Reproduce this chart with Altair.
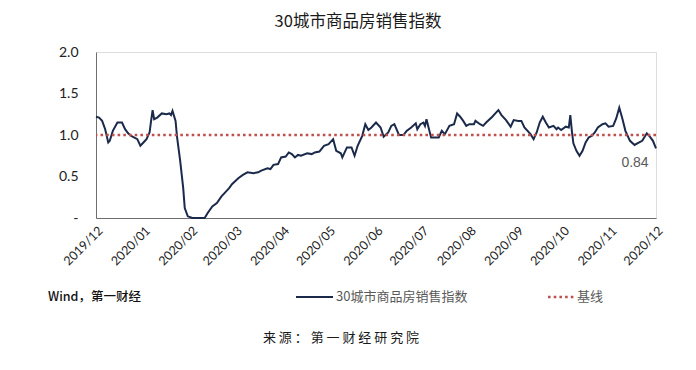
import altair as alt
import pandas as pd

# ---------------- data ----------------
dates = [
    "2019-12-01", "2019-12-03", "2019-12-05", "2019-12-07", "2019-12-09", "2019-12-10",
    "2019-12-12", "2019-12-15", "2019-12-18", "2019-12-20", "2019-12-22", "2019-12-24",
    "2019-12-28", "2019-12-30", "2020-01-01", "2020-01-03", "2020-01-05", "2020-01-06",
    "2020-01-07", "2020-01-08", "2020-01-10", "2020-01-13", "2020-01-16", "2020-01-18",
    "2020-01-19", "2020-01-20", "2020-01-22", "2020-01-23", "2020-01-25", "2020-01-27",
    "2020-01-28", "2020-01-30", "2020-02-02", "2020-02-09", "2020-02-10", "2020-02-12",
    "2020-02-15", "2020-02-18", "2020-02-21", "2020-02-23", "2020-02-26", "2020-02-28",
    "2020-03-03", "2020-03-06", "2020-03-09", "2020-03-13", "2020-03-16", "2020-03-18",
    "2020-03-22", "2020-03-24", "2020-03-26", "2020-03-29", "2020-03-31", "2020-04-03",
    "2020-04-05", "2020-04-07", "2020-04-09", "2020-04-11", "2020-04-13", "2020-04-17",
    "2020-04-20", "2020-04-22", "2020-04-25", "2020-04-28", "2020-05-01", "2020-05-04",
    "2020-05-06", "2020-05-09", "2020-05-10", "2020-05-13", "2020-05-16", "2020-05-18",
    "2020-05-20", "2020-05-23", "2020-05-25", "2020-05-27", "2020-05-29", "2020-06-01",
    "2020-06-04", "2020-06-06", "2020-06-09", "2020-06-11", "2020-06-13", "2020-06-16",
    "2020-06-19", "2020-06-21", "2020-06-24", "2020-06-27", "2020-06-28", "2020-06-30",
    "2020-07-02", "2020-07-03", "2020-07-04", "2020-07-07", "2020-07-12", "2020-07-14",
    "2020-07-16", "2020-07-19", "2020-07-22", "2020-07-24", "2020-07-26", "2020-07-28",
    "2020-07-30", "2020-08-01", "2020-08-04", "2020-08-05", "2020-08-08", "2020-08-10",
    "2020-08-12", "2020-08-16", "2020-08-18", "2020-08-20", "2020-08-22", "2020-08-25",
    "2020-08-28", "2020-08-30", "2020-09-02", "2020-09-04", "2020-09-06", "2020-09-10",
    "2020-09-12", "2020-09-14", "2020-09-16", "2020-09-18", "2020-09-20", "2020-09-22",
    "2020-09-25", "2020-09-27", "2020-09-28", "2020-09-30", "2020-10-03", "2020-10-05",
    "2020-10-06", "2020-10-07", "2020-10-08", "2020-10-10", "2020-10-12", "2020-10-14",
    "2020-10-16", "2020-10-18", "2020-10-20", "2020-10-22", "2020-10-24", "2020-10-27",
    "2020-10-29", "2020-10-31", "2020-11-03", "2020-11-05", "2020-11-07", "2020-11-09",
    "2020-11-11", "2020-11-14", "2020-11-17", "2020-11-20", "2020-11-22", "2020-11-25",
    "2020-11-27", "2020-11-29", "2020-12-01",
]
values = [
    1.22, 1.21, 1.17, 1.07, 0.91, 0.93,
    1.05, 1.15, 1.15, 1.07, 1.02, 0.99,
    0.95, 0.87, 0.91, 0.95, 1.03, 1.17,
    1.30, 1.19, 1.21, 1.26, 1.25, 1.26,
    1.24, 1.29, 1.17, 0.97, 0.69, 0.36,
    0.12, 0.02, 0.00, 0.00, 0.00, 0.06,
    0.14, 0.18, 0.26, 0.30, 0.36, 0.41,
    0.48, 0.52, 0.55, 0.54, 0.55, 0.57,
    0.60, 0.59, 0.64, 0.65, 0.73, 0.74,
    0.79, 0.77, 0.73, 0.76, 0.75, 0.78,
    0.77, 0.79, 0.80, 0.87, 0.89, 0.95,
    0.81, 0.78, 0.73, 0.85, 0.85, 0.75,
    0.87, 0.99, 1.13, 1.06, 1.09, 1.15,
    1.09, 0.98, 1.03, 1.11, 1.13, 1.00,
    1.00, 1.05, 1.09, 1.14, 1.07, 1.13,
    1.15, 1.11, 1.19, 0.97, 0.97, 1.05,
    1.01, 1.11, 1.13, 1.26, 1.22, 1.17,
    1.11, 1.13, 1.13, 1.17, 1.13, 1.11,
    1.15, 1.22, 1.26, 1.30, 1.24, 1.18,
    1.10, 1.18, 1.17, 1.17, 1.09, 1.01,
    0.95, 1.03, 1.15, 1.22, 1.15, 1.09,
    1.11, 1.07, 1.09, 1.06, 1.10, 1.09,
    1.24, 1.05, 0.90, 0.81, 0.75, 0.81,
    0.91, 0.97, 0.99, 1.03, 1.09, 1.13,
    1.14, 1.10, 1.11, 1.20, 1.33, 1.20,
    1.05, 0.93, 0.88, 0.91, 0.93, 1.02,
    0.98, 0.93, 0.84,
]
baseline_value = [1.0]
y_ticks = [0, 0.5, 1.0, 1.5, 2.0]
x_tick_months = [(2019, 12)] + [(2020, m) for m in range(1, 13)]

title_text = "30城市商品房销售指数"
series_name = "30城市商品房销售指数"
base_name = "基线"
note_left = "Wind，第一财经"
source_text = "来 源 ： 第 一 财 经 研 究 院"

# ---------------- styles ----------------
LINE_COLOR = "#1b2a4a"
BASE_COLOR = "#c0504d"
CJK = "Noto Sans CJK SC"

df = pd.DataFrame({"date": dates, "value": values})
base_df = pd.DataFrame({"base": baseline_value})
last_df = df.tail(1)

x_values = [alt.DateTime(year=y, month=m, date=1) for y, m in x_tick_months]

x_enc = alt.X(
    "date:T",
    scale=alt.Scale(domain=[x_values[0], x_values[-1]]),
    axis=alt.Axis(
        values=x_values, format="%Y/%m", labelAngle=-45, title=None,
        ticks=False, grid=False, labelPadding=6, labelFontSize=12.5,
        labelFont="Lato", labelColor="#222222", domainColor="#6e6e6e",
        labelAlign="right", labelBaseline="top",
    ),
)
y_enc = alt.Y(
    "value:Q",
    scale=alt.Scale(domain=[0, 2]),
    axis=alt.Axis(
        values=y_ticks, title=None, ticks=False, grid=False,
        labelExpr="datum.value == 0 ? '-  ' : format(datum.value, '.1f')",
        labelPadding=18, labelFontSize=14, labelFont="Lato",
        labelColor="#222222", domainColor="#6e6e6e",
    ),
)

line = alt.Chart(df).mark_line(color=LINE_COLOR, strokeWidth=2).encode(x=x_enc, y=y_enc)

base = alt.Chart(base_df).mark_rule(
    color=BASE_COLOR, strokeWidth=2.5, strokeDash=[2.6, 3.1]
).encode(y=alt.Y("base:Q"))

last_label = alt.Chart(last_df).mark_text(
    dx=-21, dy=15, font="Liberation Sans", fontSize=14, color="#595959"
).encode(x="date:T", y="value:Q", text=alt.Text("value:Q", format=".2f"))

one = pd.DataFrame({"k": [0]})

note = alt.Chart(pd.DataFrame({"t": [note_left]})).mark_text(
    font=CJK, fontSize=12.5, color="#111111", align="left", baseline="middle",
    fontWeight=500,
).encode(x=alt.value(-48), y=alt.value(245), text="t:N")

leg_line = alt.Chart(one).mark_rule(color=LINE_COLOR, strokeWidth=2).encode(
    x=alt.value(200), x2=alt.value(237), y=alt.value(245)
)
leg_text1 = alt.Chart(pd.DataFrame({"t": [series_name]})).mark_text(
    font=CJK, fontSize=13, color="#595959", align="left", baseline="middle"
).encode(x=alt.value(240), y=alt.value(245), text="t:N")

leg_dots = alt.Chart(one).mark_rule(
    color=BASE_COLOR, strokeWidth=2.5, strokeDash=[2.6, 3.1]
).encode(x=alt.value(452), x2=alt.value(478), y=alt.value(245))
leg_text2 = alt.Chart(pd.DataFrame({"t": [base_name]})).mark_text(
    font=CJK, fontSize=13, color="#595959", align="left", baseline="middle"
).encode(x=alt.value(481), y=alt.value(245), text="t:N")

source = alt.Chart(pd.DataFrame({"t": [source_text]})).mark_text(
    font=CJK, fontSize=13, color="#1a1a1a", align="center", baseline="middle"
).encode(x=alt.value(245), y=alt.value(286), text="t:N")

chart = alt.layer(
    line, base, last_label, note, leg_line, leg_text1, leg_dots, leg_text2, source
).properties(
    width=560,
    height=166,
    title=alt.TitleParams(
        title_text, font=CJK, fontSize=16.5, fontWeight="normal", color="#1a1a1a",
        anchor="middle", dx=-18, offset=15,
    ),
    autosize=alt.AutoSizeParams(type="none"),
    padding={"left": 88, "top": 44, "right": 32, "bottom": 144},
).configure_view(stroke=None).configure(background="white")

chart.save("out.html", embed_options={"renderer": "svg", "actions": False})
